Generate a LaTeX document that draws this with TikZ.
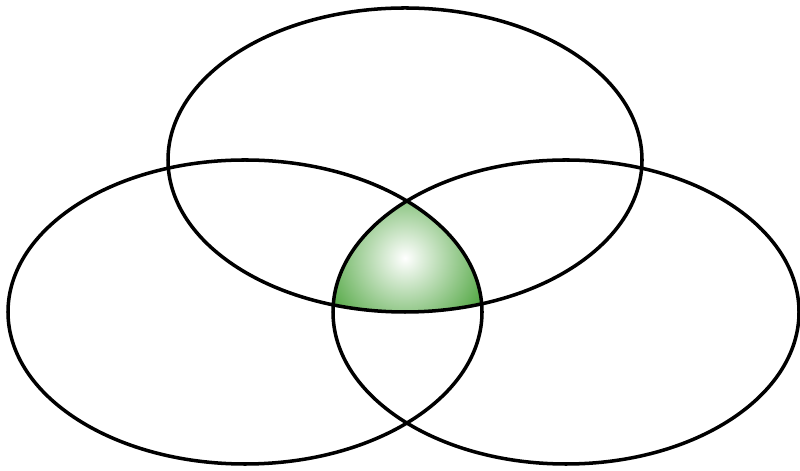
\documentclass[tikz,border=0pt]{standalone}
\usetikzlibrary{positioning}
\definecolor{leafgreen}{RGB}{48,150,30}

\begin{document}
\begin{tikzpicture}[line width=1pt,
    ring/.style={draw=black}]
  \useasboundingbox (0,0) rectangle (8,4.71);
  % ================================================================ the three sets
  \coordinate (ctop) at (4.05,3.11);
  \coordinate (cleft) at (2.45,1.59);
  \coordinate (cright) at (5.66,1.59);
  % common part of all three
  \begin{scope}
    \clip (ctop) ellipse [x radius=2.37, y radius=1.52];
    \clip (cleft) ellipse [x radius=2.37, y radius=1.52];
    \clip (cright) ellipse [x radius=2.33, y radius=1.52];
    \shade[inner color=white, outer color=leafgreen] (4.05,2.13) circle (1.05);
  \end{scope}
  % outlines
  \draw[ring] (ctop) ellipse [x radius=2.37, y radius=1.52];
  \draw[ring] (cleft) ellipse [x radius=2.37, y radius=1.52];
  \draw[ring] (cright) ellipse [x radius=2.33, y radius=1.52];
\end{tikzpicture}
\end{document}
